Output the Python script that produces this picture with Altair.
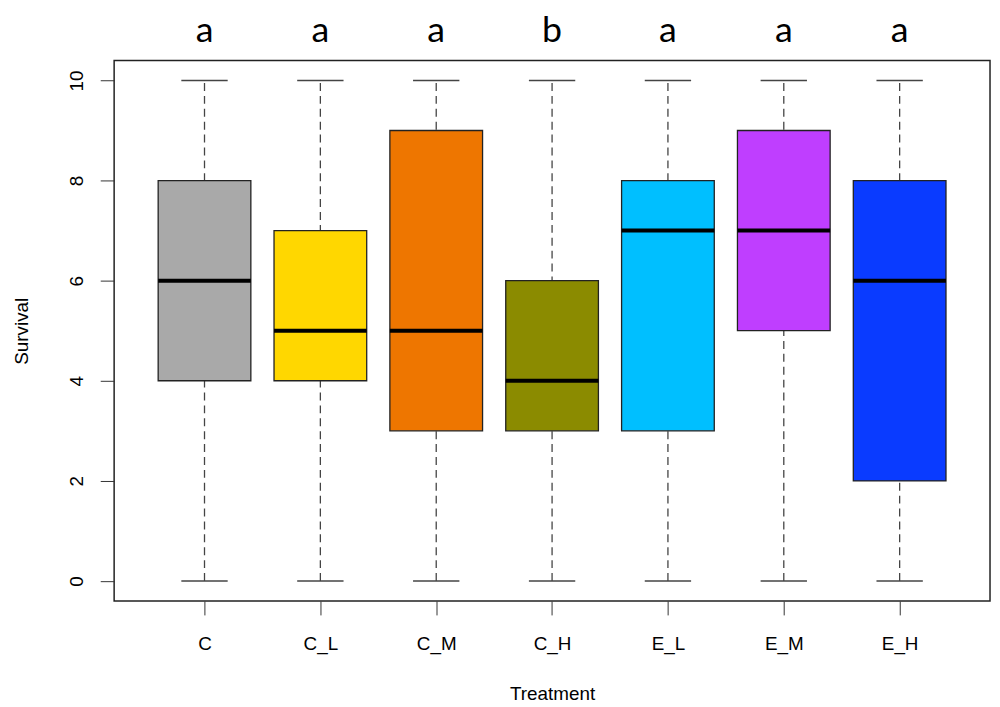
import altair as alt
import pandas as pd

treatments = ["C", "C_L", "C_M", "C_H", "E_L", "E_M", "E_H"]
positions = [1, 2, 3, 4, 5, 6, 7]
mins = [0, 0, 0, 0, 0, 0, 0]
q1s = [4, 4, 3, 3, 3, 5, 2]
medians = [6, 5, 5, 4, 7, 7, 6]
q3s = [8, 7, 9, 6, 8, 9, 8]
maxs = [10, 10, 10, 10, 10, 10, 10]
letters = ["a", "a", "a", "b", "a", "a", "a"]
colors = ["#A9A9A9", "#FFD700", "#EE7600", "#8B8B00", "#00BFFF", "#BF3EFF", "#0A3BFF"]

df = pd.DataFrame({
    "treatment": treatments, "pos": positions, "min": mins, "q1": q1s,
    "median": medians, "q3": q3s, "max": maxs, "letter": letters,
})

label_expr = "[" + ",".join(f"'{t}'" for t in treatments) + "][datum.value - 1]"

xscale = alt.Scale(domain=[0.22, 7.78], nice=False, zero=False)
yscale = alt.Scale(domain=[-0.4, 10.4], nice=False, zero=False)

base = alt.Chart(df).transform_calculate(
    bl="datum.pos - 0.4", br="datum.pos + 0.4",
    cl="datum.pos - 0.2", cr="datum.pos + 0.2",
)

xaxis = alt.X("pos:Q", scale=xscale, title="Treatment",
              axis=alt.Axis(values=positions, labelExpr=label_expr, tickSize=14,
                            labelPadding=20, titlePadding=31, domain=False,
                            grid=False, labelFontSize=19, titleFontSize=19,
                            labelColor="black", titleColor="black", tickColor="#333",
                            titleFontWeight="normal", labelFont="Liberation Sans",
                            titleFont="Liberation Sans"))
yaxis = alt.Y("min:Q", scale=yscale, title="Survival",
              axis=alt.Axis(values=[0, 2, 4, 6, 8, 10], tickSize=14, labelAngle=-90,
                            labelAlign="center", labelBaseline="bottom",
                            labelPadding=14, titlePadding=36, domain=False, grid=False,
                            labelFontSize=19, titleFontSize=19, labelColor="black",
                            titleColor="black", tickColor="#333",
                            titleFontWeight="normal", labelFont="Liberation Sans",
                            titleFont="Liberation Sans"))

whisker = base.mark_rule(color="#444", strokeDash=[8, 5], strokeWidth=1.3).encode(
    x=xaxis, y=yaxis, y2="max:Q")

cap_lo = base.mark_rule(color="#444", strokeWidth=1.5).encode(
    x=alt.X("cl:Q", scale=xscale), x2="cr:Q", y=alt.Y("min:Q", scale=yscale))
cap_hi = base.mark_rule(color="#444", strokeWidth=1.5).encode(
    x=alt.X("cl:Q", scale=xscale), x2="cr:Q", y=alt.Y("max:Q", scale=yscale))

box = base.mark_rect(stroke="#222", strokeWidth=1.3).encode(
    x=alt.X("bl:Q", scale=xscale), x2="br:Q",
    y=alt.Y("q1:Q", scale=yscale), y2="q3:Q",
    fill=alt.Fill("treatment:N", scale=alt.Scale(domain=treatments, range=colors), legend=None))

med = base.mark_rule(color="black", strokeWidth=4).encode(
    x=alt.X("bl:Q", scale=xscale), x2="br:Q", y=alt.Y("median:Q", scale=yscale))

txt = base.mark_text(fontSize=36, font="Lato", baseline="alphabetic", color="black").encode(
    x=alt.X("pos:Q", scale=xscale), y=alt.value(-19), text="letter:N")

chart = alt.layer(whisker, cap_lo, cap_hi, box, med, txt).properties(
    width=883, height=545, autosize="none",
    padding={"left": 107, "top": 50, "right": 2, "bottom": 102},
).configure(background="white").configure_view(stroke="#222", strokeWidth=1.5)

chart.save("out.html", embed_options={"renderer": "svg", "actions": False})
